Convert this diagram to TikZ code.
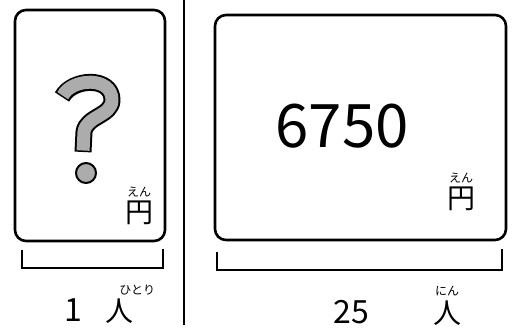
\documentclass[tikz,border=0pt]{standalone}
\usepackage{fontspec}
\usepackage{tikz}
\usetikzlibrary{positioning}
\newfontfamily\jpfont{Noto Sans CJK JP}
\tikzset{
  box/.style={line width=2.6pt, rounded corners=11pt},
  bracket/.style={line width=2.2pt},
  furi/.style={font=\jpfont\fontsize{12}{12}\selectfont, inner sep=0pt},
  yen/.style={font=\jpfont\fontsize{28}{28}\selectfont, inner sep=0pt},
  num/.style={font=\jpfont\fontsize{32}{32}\selectfont, inner sep=0pt}
}
\begin{document}
\begin{tikzpicture}[x=1pt, y=-1pt]
	    \useasboundingbox[fill=white] (0,0) rectangle (519,331);
	    % the two boxes
	    \draw[box] (15,10) rectangle (165,241);
	    \draw[box] (215,15) rectangle (506,240);
	    \draw[line width=2.6pt] (184,0) -- (184,325);
	    % question mark
	    \draw[line width=17pt, line join=round] (62,97) .. controls (72,78) and (112,76) .. (112,100) .. controls (112,116) and (86,116) .. (84,132) -- (83,152);
	    \draw[line width=13pt, gray!65, line join=round, shorten <=1.5pt, shorten >=1.5pt] (62,97) .. controls (72,78) and (112,76) .. (112,100) .. controls (112,116) and (86,116) .. (84,132) -- (83,152);
	    \filldraw[fill=gray!65, draw=black, line width=2pt] (86,173) circle (10);
	    % labels inside
	    \node[yen] (yenl) at (139,213) {円};
	    \node[furi, above=4pt of yenl] (enl) {えん};
	    \node[font=\jpfont\fontsize{60}{60}\selectfont, inner sep=0pt] (total) at (342,126) {6750};
	    \node[yen] (yenr) at (461,199) {円};
	    \node[furi, above=4pt of yenr] (enr) {えん};
	    % brackets
	    \coordinate (bl1) at (22,250);
	    \coordinate (bl2) at (163,249);
	    \coordinate (br1) at (217,252);
	    \coordinate (br2) at (502,249);
	    \draw[bracket] (bl1) -- ++(0,18) -| (bl2);
	    \draw[bracket] (br1) -- ++(0,18) -| (br2);
	    % counts
	    \node[num] (one) at (73,310) {1};
	    \node[yen] (pl) at (119,311) {人};
	    \node[furi, above right=3pt and -14pt of pl] (hitori) {ひとり};
	    \node[num] (tfive) at (351,312) {25};
	    \node[yen] (pr) at (447,313) {人};
	    \node[furi, above=4pt of pr] (nin) {にん};
\end{tikzpicture}
\end{document}
